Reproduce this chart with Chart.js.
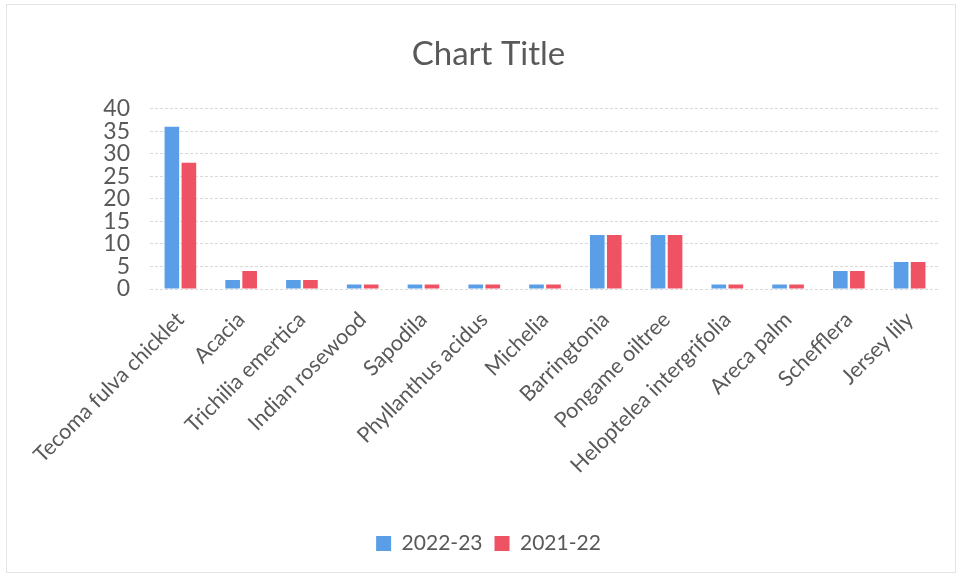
<!DOCTYPE html>
<html>
<head>
<meta charset="utf-8">
<script src="https://cdn.jsdelivr.net/npm/chart.js@4"></script>
<style>
  html, body { margin: 0; padding: 0; background: #fff; }
  #wrap { position: absolute; left: 6px; top: 4px; width: 948px; height: 567px; border: 1px solid #e4e4e4; }
</style>
</head>
<body>
<div id="wrap"><canvas id="chart"></canvas></div>
<script>
// Datos del gráfico
const categories = [
  "Tecoma fulva chicklet", "Acacia", "Trichilia emertica", "Indian rosewood",
  "Sapodila", "Phyllanthus acidus", "Michelia", "Barringtonia",
  "Pongame oiltree", "Heloptelea intergrifolia", "Areca palm", "Schefflera", "Jersey lily"
];
const values2223 = [36, 2, 2, 1, 1, 1, 1, 12, 12, 1, 1, 4, 6];
const values2122 = [28, 4, 2, 1, 1, 1, 1, 12, 12, 1, 1, 4, 6];
const yMax = 40;
const yStep = 5;

const textColor = "#595959";
const fontFamily = "Lato, 'Open Sans', sans-serif";

const ctx = document.querySelector("#chart").getContext("2d");
new Chart(ctx, {
  type: "bar",
  data: {
    labels: categories,
    datasets: [
      {
        label: "2022-23",
        data: values2223,
        backgroundColor: "#5b9ee8",
        categoryPercentage: 0.56,
        barPercentage: 0.86,
      },
      {
        label: "2021-22",
        data: values2122,
        backgroundColor: "#ef5262",
        categoryPercentage: 0.56,
        barPercentage: 0.86,
      },
    ],
  },
  options: {
    responsive: true,
    maintainAspectRatio: false,
    animation: false,
    layout: { padding: { left: 30, right: 15, top: 30, bottom: 8 } },
    scales: {
      x: {
        grid: { display: false },
        border: { display: false },
        afterFit: (axis) => { axis.height = 232; },
        ticks: {
          color: textColor,
          font: { family: fontFamily, size: 21.5 },
          minRotation: 45,
          maxRotation: 45,
          autoSkip: false,
          padding: 10,
        },
      },
      y: {
        min: 0,
        max: yMax,
        afterFit: (axis) => { axis.width = 113; },
        grid: { color: "#d9d9d9", drawTicks: false },
        border: { display: false, dash: [3, 2] },
        ticks: {
          stepSize: yStep,
          autoSkip: false,
          color: textColor,
          font: { family: fontFamily, size: 23 },
          padding: 20,
        },
      },
    },
    plugins: {
      title: {
        display: true,
        text: "Chart Title",
        color: textColor,
        font: { family: fontFamily, size: 33, weight: "normal" },
        padding: { top: 0, bottom: 34 },
      },
      legend: {
        display: true,
        position: "bottom",
        labels: {
          color: textColor,
          font: { family: fontFamily, size: 21 },
          boxWidth: 15,
          boxHeight: 15,
          padding: 12,
        },
      },
    },
  },
});
</script>
</body>
</html>
